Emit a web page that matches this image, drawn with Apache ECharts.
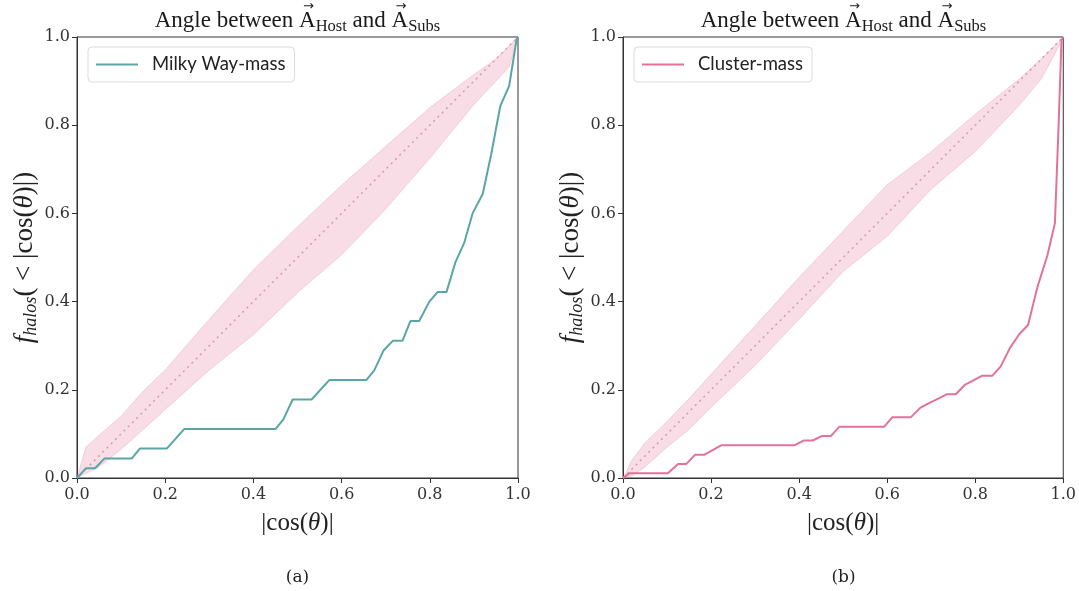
<!DOCTYPE html>
<html><head><meta charset="utf-8">
<script src="https://cdn.jsdelivr.net/npm/echarts@6/dist/echarts.min.js"></script>
<style>html,body{margin:0;padding:0;background:#fff}#c{width:1079px;height:591px}</style>
</head><body><div id="c"></div>
<script>
// ---- data ----
const xTicks = [0, 0.2, 0.4, 0.6, 0.8, 1.0];
const mwX = [0,0.020,0.041,0.062,0.124,0.143,0.204,0.243,0.450,0.468,0.489,0.532,0.572,0.656,0.674,0.695,0.716,0.738,0.756,0.776,0.799,0.818,0.838,0.858,0.878,0.897,0.920,0.939,0.960,0.980,0.997,1.0];
const mwY = [0,0.022,0.022,0.044,0.044,0.067,0.067,0.111,0.111,0.133,0.178,0.178,0.222,0.222,0.244,0.289,0.311,0.311,0.356,0.356,0.400,0.422,0.422,0.489,0.533,0.600,0.644,0.733,0.844,0.889,0.996,1.0];
const clX = [0,0.015,0.102,0.125,0.144,0.164,0.185,0.223,0.389,0.410,0.431,0.451,0.472,0.491,0.593,0.612,0.654,0.675,0.695,0.716,0.736,0.756,0.776,0.797,0.816,0.839,0.858,0.879,0.900,0.920,0.941,0.964,0.981,0.989,0.996,1.0];
const clY = [0,0.011,0.011,0.032,0.032,0.053,0.053,0.074,0.074,0.085,0.085,0.095,0.095,0.116,0.116,0.138,0.138,0.159,0.170,0.180,0.190,0.190,0.211,0.222,0.232,0.232,0.253,0.295,0.326,0.347,0.432,0.505,0.578,0.790,0.993,1.0];
const bandAX  = [0,0.02,0.05,0.10,0.15,0.20,0.30,0.40,0.50,0.60,0.70,0.80,0.90,0.95,0.98,1];
const bandAUp = [0,0.070,0.097,0.140,0.197,0.245,0.360,0.472,0.570,0.664,0.752,0.840,0.915,0.950,0.980,1];
const bandALo = [0,0.010,0.025,0.065,0.110,0.155,0.245,0.325,0.420,0.506,0.610,0.725,0.847,0.900,0.932,1];
const bandBX  = [0,0.02,0.05,0.10,0.15,0.20,0.30,0.40,0.50,0.60,0.70,0.80,0.90,0.95,0.98,1];
const bandBUp = [0,0.040,0.080,0.128,0.180,0.235,0.345,0.455,0.560,0.665,0.740,0.825,0.905,0.950,0.980,1];
const bandBLo = [0,0.005,0.025,0.070,0.110,0.160,0.255,0.360,0.468,0.548,0.655,0.740,0.845,0.905,0.960,1];
const diagX = [0, 1];
const diagY = [0, 1];
const seriesNames = ['Milky Way-mass', 'Cluster-mass'];
const captions = ['(a)', '(b)'];
const titleParts = [['Angle between ', 'b'], ['A', 'b', true], ['Host', 's'], [' and ', 'b'], ['A', 'b', true], ['Subs', 's']];

// ---- helpers ----
const zip = (a, b) => a.map((v, i) => [v, b[i]]);
const SERIF = '"Liberation Serif","DejaVu Serif",serif';
const NUMF = '"DejaVu Serif",serif';
const grids = [
  {left: 77, right: 561, top: 37, bottom: 113},
  {left: 623, right: 15, top: 37, bottom: 113}
];
const centers = [297.5, 843.5];

const mctx = document.createElement('canvas').getContext('2d');
function textW(t, font) { mctx.font = font; return mctx.measureText(t).width; }

function titleGraphics(cx) {
  const fonts = {b: '23px "Liberation Serif"', s: '16.5px "Liberation Serif"'};
  const ys = {b: 21, s: 27};
  const widths = titleParts.map(p => textW(p[0], fonts[p[1]]));
  const total = widths.reduce((a, b) => a + b, 0);
  let x = cx - total / 2;
  const els = [];
  titleParts.forEach((p, i) => {
    els.push({type: 'text', x: x, y: ys[p[1]], silent: true,
      style: {text: p[0], font: fonts[p[1]], fill: '#1a1a1a', align: 'left', verticalAlign: 'middle'}});
    if (p[2]) {
      els.push({type: 'text', x: x + widths[i] / 2 + 1, y: 6.5, silent: true,
        style: {text: '\u2192', font: '13px "DejaVu Sans"', fill: '#1a1a1a', align: 'center', verticalAlign: 'middle'}});
    }
    x += widths[i];
  });
  return els;
}

function bandSeries(idx, bx, up, lo) {
  return {
    type: 'custom', xAxisIndex: idx, yAxisIndex: idx, silent: true, z: 1,
    data: [[0, 0]],
    renderItem: (params, api) => {
      const pts = [];
      for (let i = 0; i < bx.length; i++) pts.push(api.coord([bx[i], up[i]]));
      for (let i = bx.length - 1; i >= 0; i--) pts.push(api.coord([bx[i], lo[i]]));
      return {type: 'polygon', shape: {points: pts},
        style: {fill: 'rgba(232,150,178,0.32)', stroke: 'rgba(232,150,178,0.35)', lineWidth: 1}};
    }
  };
}

const xAxes = [0, 1].map(i => ({
  type: 'value', gridIndex: i, min: 0, max: 1, interval: 0.2,
  axisLine: {show: true, onZero: false, lineStyle: {color: '#333', width: 1}},
  axisTick: {show: true, inside: false, length: 5, lineStyle: {color: '#333'}},
  splitLine: {show: false},
  axisLabel: {fontFamily: NUMF, fontSize: 16, color: '#333', margin: 9,
    formatter: v => v.toFixed(1)},
  name: '|cos({i|θ})|', nameLocation: 'middle', nameGap: 33,
  nameTextStyle: {fontFamily: SERIF, fontSize: 25, color: '#222',
    rich: {i: {fontFamily: SERIF, fontStyle: 'italic', fontSize: 25, color: '#222'}}}
}));

const yAxes = [0, 1].map(i => ({
  type: 'value', gridIndex: i, min: 0, max: 1, interval: 0.2,
  axisLine: {show: true, onZero: false, lineStyle: {color: '#333', width: 1}},
  axisTick: {show: true, inside: false, length: 5, lineStyle: {color: '#333'}},
  splitLine: {show: false},
  axisLabel: {fontFamily: NUMF, fontSize: 16, color: '#333', margin: 7,
    formatter: v => v.toFixed(1)},
  name: '{f|f}{s|halos}{n|( < |cos(}{i|θ}{n|)|)}', nameLocation: 'middle', nameGap: 33, nameRotate: 90,
  nameTextStyle: {fontFamily: SERIF, fontSize: 27, color: '#222',
    rich: {
      f: {fontFamily: SERIF, fontStyle: 'italic', fontSize: 27, color: '#222'},
      s: {fontFamily: SERIF, fontStyle: 'italic', fontSize: 18, color: '#222', padding: [13, 0, 0, 0]},
      n: {fontFamily: SERIF, fontSize: 27, color: '#222'},
      i: {fontFamily: SERIF, fontStyle: 'italic', fontSize: 27, color: '#222'}
    }}
}));

const legendBase = {
  top: 47, itemWidth: 42, itemHeight: 2, itemGap: 10, padding: [8, 9, 8, 8],
  borderColor: '#dcdcdc', borderWidth: 1, borderRadius: 4, backgroundColor: '#fff',
  icon: 'rect', textStyle: {fontFamily: 'Lato, "Open Sans", sans-serif', fontSize: 18.5, color: '#222', padding: [0, 0, 0, 9]}
};

const option = {
  animation: false,
  backgroundColor: '#fff',
  grid: grids.map(g => Object.assign({show: true, borderColor: '#333', borderWidth: 1, backgroundColor: 'transparent'}, g)),
  xAxis: xAxes,
  yAxis: yAxes,
  legend: [
    Object.assign({}, legendBase, {left: 88, data: [seriesNames[0]]}),
    Object.assign({}, legendBase, {left: 634, data: [seriesNames[1]]})
  ],
  graphic: [].concat(
    titleGraphics(centers[0]), titleGraphics(centers[1]),
    captions.map((c, i) => ({
      type: 'text', x: centers[i], y: 578, silent: true,
      style: {text: c, font: '17px ' + NUMF, fill: '#222', align: 'center', verticalAlign: 'middle'}
    }))
  ),
  series: [
    bandSeries(0, bandAX, bandAUp, bandALo),
    bandSeries(1, bandBX, bandBUp, bandBLo),
    {type: 'line', xAxisIndex: 0, yAxisIndex: 0, data: zip(diagX, diagY), symbol: 'none', silent: true, z: 2,
      lineStyle: {color: '#d79aae', width: 1.5, type: [2, 4]}},
    {type: 'line', xAxisIndex: 1, yAxisIndex: 1, data: zip(diagX, diagY), symbol: 'none', silent: true, z: 2,
      lineStyle: {color: '#d79aae', width: 1.5, type: [2, 4]}},
    {name: seriesNames[0], type: 'line', xAxisIndex: 0, yAxisIndex: 0, data: zip(mwX, mwY),
      symbol: 'none', z: 3, color: '#5aa6a6', lineStyle: {color: '#5aa6a6', width: 2}},
    {name: seriesNames[1], type: 'line', xAxisIndex: 1, yAxisIndex: 1, data: zip(clX, clY),
      symbol: 'none', z: 3, color: '#e2729b', lineStyle: {color: '#e2729b', width: 2}}
  ]
};
const chart = echarts.init(document.getElementById('c'), null, {renderer: 'canvas'});
chart.setOption(option);
</script></body></html>
